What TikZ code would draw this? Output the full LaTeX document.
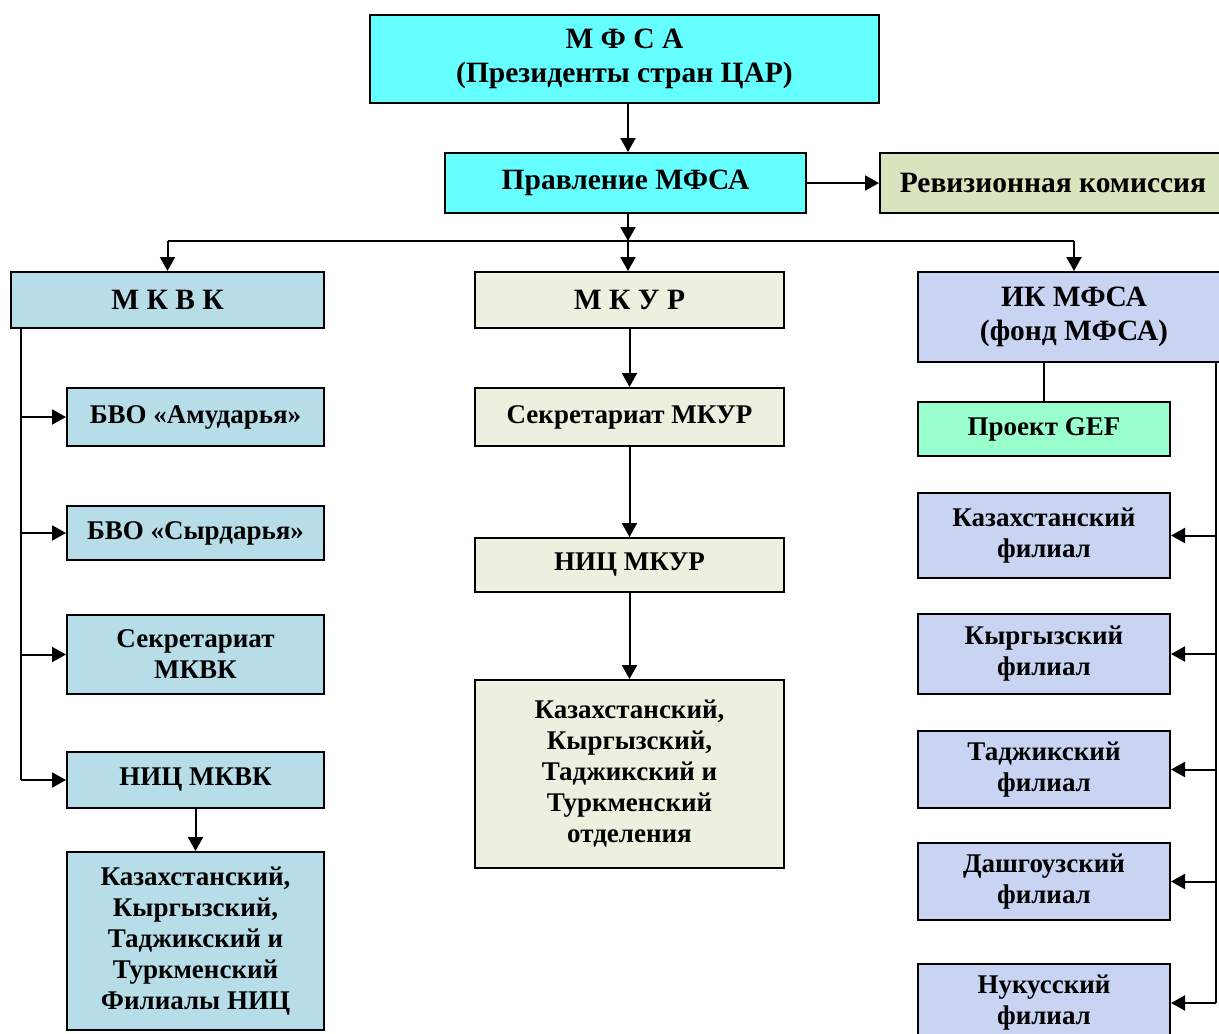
\documentclass[tikz,border=0pt]{standalone}
\usepackage{fontspec}
\setmainfont{Liberation Serif}
\usepackage{xcolor}
\usetikzlibrary{arrows.meta, positioning}

\definecolor{cyanbox}{HTML}{66FFFF}
\definecolor{revbox}{HTML}{D7E4BD}
\definecolor{bluebox}{HTML}{B7DDE8}
\definecolor{greenbox}{HTML}{EBF1DE}
\definecolor{lavbox}{HTML}{C9D3F2}
\definecolor{gefbox}{HTML}{99FFCC}

\tikzset{
  box/.style={draw, line width=2pt, align=center, inner sep=2pt,
    font=\fontsize{27}{31}\selectfont\bfseries},
  bigbox/.style={box, font=\fontsize{29.5}{34}\selectfont\bfseries},
  arr/.style={line width=2pt, -{Triangle[length=14pt,width=15pt]}},
  ln/.style={line width=2pt}
}

\begin{document}
\begin{tikzpicture}[x=1pt, y=-1pt]
        \useasboundingbox (0,0) rectangle (1219,1034);

        % Top
        \node[bigbox, fill=cyanbox, minimum width=509pt, minimum height=88pt] (mfsa) at (624.5,59) {М Ф С А\\(Президенты стран ЦАР)};
        \node[bigbox, fill=cyanbox, minimum width=361pt, minimum height=60pt] (pravl) at (625.5,183) {Правление МФСА};
        \node[bigbox, fill=revbox, minimum width=346pt, minimum height=60pt] (reviz) at (1053,183) {Ревизионная комиссия};

        % Commissions
        \node[bigbox, fill=bluebox, minimum width=313pt, minimum height=56pt] (mkvk) at (167.5,300) {М К В К};
        \node[bigbox, fill=greenbox, minimum width=309pt, minimum height=56pt] (mkur) at (629.5,300) {М К У Р};
        \node[bigbox, fill=lavbox, minimum width=312pt, minimum height=90pt] (ikf) at (1074,317) {ИК МФСА\\(фонд МФСА)};

        % MKVK
        \node[box, fill=bluebox, minimum width=257pt, minimum height=58pt] (bvoa) at (195.5,417) {БВО «Амударья»};
        \node[box, fill=bluebox, minimum width=257pt, minimum height=54pt] (bvos) at (195.5,533) {БВО «Сырдарья»};
        \node[box, fill=bluebox, minimum width=257pt, minimum height=79pt] (sekv) at (195.5,654.5) {Секретариат\\МКВК};
        \node[box, fill=bluebox, minimum width=257pt, minimum height=56pt] (nicv) at (195.5,780) {НИЦ МКВК};
        \node[box, fill=bluebox, minimum width=257pt, minimum height=178pt] (filv) at (195.5,941) {Казахстанский,\\Кыргызский,\\Таджикский и\\Туркменский\\Филиалы НИЦ};

        % MKUR
        \node[box, fill=greenbox, minimum width=309pt, minimum height=58pt] (seku) at (629.5,417) {Секретариат МКУР};
        \node[box, fill=greenbox, minimum width=309pt, minimum height=54pt] (nicu) at (629.5,565) {НИЦ МКУР};
        \node[box, fill=greenbox, minimum width=309pt, minimum height=188pt] (otdu) at (629.5,774) {Казахстанский,\\Кыргызский,\\Таджикский и\\Туркменский\\отделения};

        % IK MFSA
        \node[box, fill=gefbox, minimum width=252pt, minimum height=54pt] (gef) at (1044,429) {Проект GEF};
        \node[box, fill=lavbox, minimum width=252pt, minimum height=85pt] (kaz) at (1044,535.5) {Казахстанский\\филиал};
        \node[box, fill=lavbox, minimum width=252pt, minimum height=80pt] (kyr) at (1044,654) {Кыргызский\\филиал};
        \node[box, fill=lavbox, minimum width=252pt, minimum height=77pt] (taj) at (1044,769.5) {Таджикский\\филиал};
        \node[box, fill=lavbox, minimum width=252pt, minimum height=77pt] (dash) at (1044,881.5) {Дашгоузский\\филиал};
        \node[box, fill=lavbox, minimum width=252pt, minimum height=78pt] (nuk) at (1044,1003) {Нукусский\\филиал};

        % Helper points
        \coordinate (bus) at (628,241);
        \coordinate (ltop) at (21,328);
        \coordinate (rtop) at (1216,362);

        % Arrows top
        \draw[arr] (mfsa.south -| bus) -- (pravl.north -| bus);
        \draw[arr] (pravl) -- (reviz);
        \draw[arr] (pravl.south -| bus) -- (bus);
        \draw[ln] (bus -| mkvk.north) -- (bus -| ikf.north);
        \draw[arr] (bus -| mkvk.north) -- (mkvk);
        \draw[arr] (bus) -- (bus |- mkur.north);
        \draw[arr] (bus -| ikf.north) -- (ikf);

        % Arrows MKVK
        \draw[ln] (ltop) -- (ltop |- nicv.west);
        \foreach \n in {bvoa, bvos, sekv, nicv}
            \draw[arr] (ltop |- \n.west) -- (\n.west);
        \draw[arr] (nicv) -- (filv);

        % Arrows MKUR
        \draw[arr] (mkur) -- (seku);
        \draw[arr] (seku) -- (nicu);
        \draw[arr] (nicu) -- (otdu);

        % Arrows IK MFSA
        \draw[ln] (ikf.south -| gef.north) -- (gef.north);
        \draw[ln] (rtop) -- (rtop |- nuk.east);
        \foreach \n in {kaz, kyr, taj, dash, nuk}
            \draw[arr] (rtop |- \n.east) -- (\n.east);
\end{tikzpicture}
\end{document}
